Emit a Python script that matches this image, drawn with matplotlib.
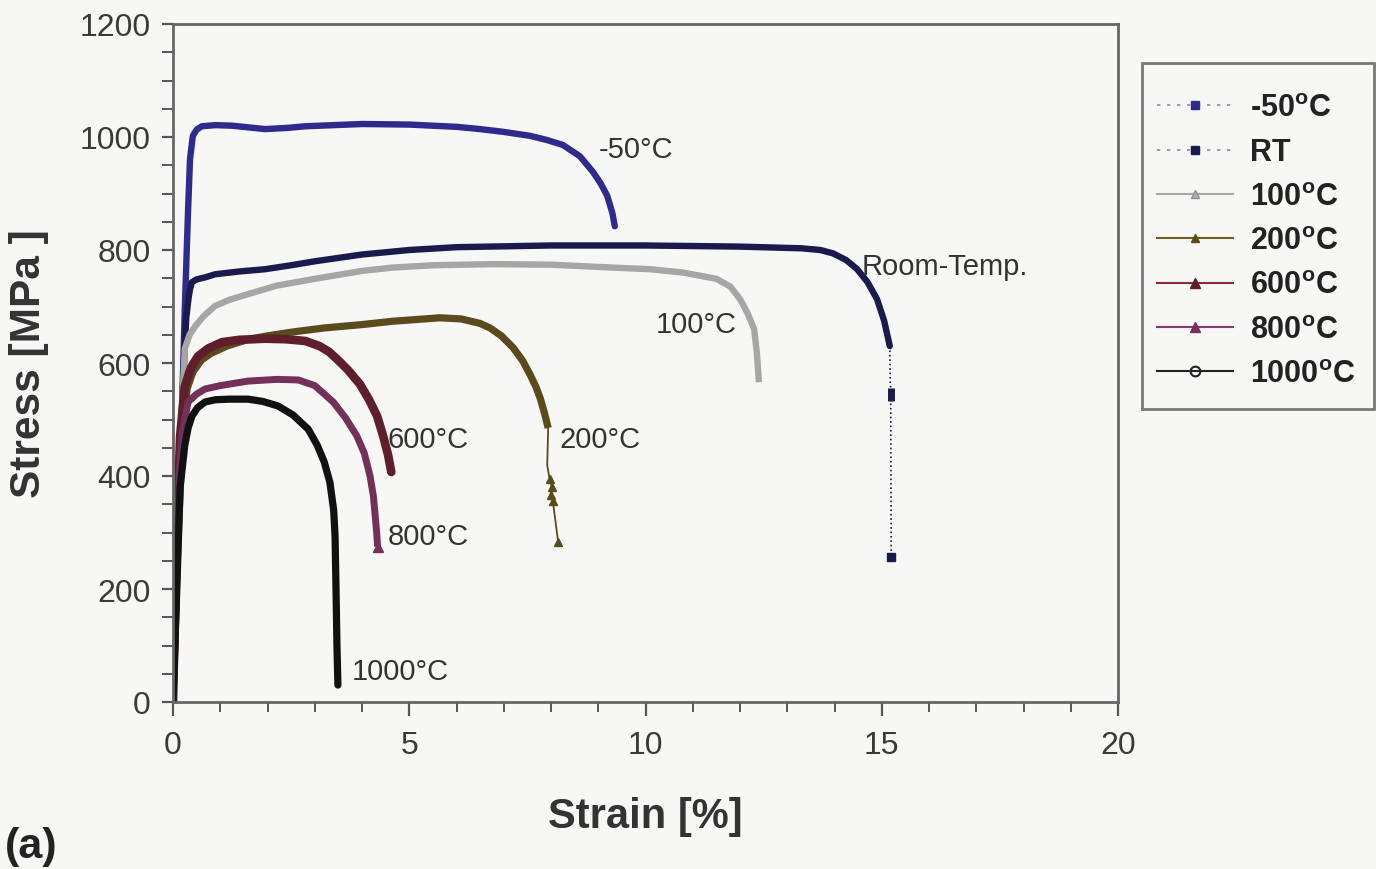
import matplotlib
matplotlib.use("Agg")
import matplotlib.pyplot as plt
from matplotlib.lines import Line2D
from matplotlib.patches import Rectangle
from matplotlib.ticker import MultipleLocator

plt.rcParams['font.family'] = ['Liberation Sans', 'DejaVu Sans']
plt.rcParams['mathtext.fontset'] = 'custom'
plt.rcParams['mathtext.rm'] = 'Liberation Sans'
plt.rcParams['mathtext.bf'] = 'Liberation Sans:bold'

# ---------------- data ----------------
m50_strain = [0, 0.19, 0.25, 0.32, 0.36, 0.42, 0.5, 0.61, 0.9, 1.25, 1.6, 1.95, 2.4, 2.8, 3.4, 4.0, 5.0, 6.0,
              6.5, 7.0, 7.56, 7.9, 8.25, 8.61, 8.89, 9.05, 9.19, 9.3, 9.35]
m50_stress = [0, 519, 696, 873, 961, 1002, 1013, 1019, 1021, 1020, 1017, 1014, 1016, 1019, 1021, 1023, 1022, 1018,
              1014, 1009, 1002, 995, 986, 966, 938, 918, 896, 865, 842]

rt_strain = [0, 0.1, 0.2, 0.28, 0.33, 0.36, 0.4, 0.5, 0.7, 0.89, 1.4, 1.95, 2.5, 3.0, 4.0, 5.0, 6.0, 8.0, 10.0,
             12.0, 13.3, 13.7, 13.97, 14.25, 14.48, 14.7, 14.9, 15.05, 15.17]
rt_stress = [0, 270, 540, 680, 715, 731, 743, 748, 752, 757, 762, 766, 773, 780, 792, 800, 805, 808, 808,
             806, 803, 800, 794, 782, 766, 743, 713, 675, 630]
rt_tail_strain = [15.17, 15.18, 15.19, 15.19, 15.2]
rt_tail_stress = [630, 566, 555, 533, 257]

t100_strain = [0, 0.1, 0.18, 0.25, 0.35, 0.47, 0.65, 0.89, 1.2, 1.59, 2.2, 3.0, 4.0, 4.66, 5.5, 6.77, 8.0, 9.0,
               10.1, 10.8, 11.5, 11.8, 12.0, 12.15, 12.3, 12.36, 12.4]
t100_stress = [0, 280, 500, 625, 650, 665, 683, 701, 712, 722, 737, 749, 763, 769, 773, 775, 774, 770,
               766, 760, 749, 735, 713, 690, 660, 615, 566]

t200_strain = [0, 0.1, 0.2, 0.3, 0.42, 0.6, 0.8, 1.14, 1.6, 2.0, 2.54, 3.2, 4.0, 4.66, 5.65, 6.1, 6.5, 6.71,
               6.95, 7.2, 7.4, 7.56, 7.68, 7.77, 7.86, 7.94]
t200_stress = [0, 270, 470, 555, 584, 605, 617, 630, 642, 648, 655, 662, 668, 674, 680, 678, 670, 662,
               648, 627, 604, 579, 558, 538, 512, 485]
t200_tail_strain = [7.94, 7.92, 7.97, 8.02, 7.99, 8.04, 8.15]
t200_tail_stress = [485, 419, 395, 380, 366, 355, 284]

t600_strain = [0, 0.08, 0.15, 0.25, 0.38, 0.53, 0.75, 1.04, 1.4, 1.95, 2.4, 2.8, 3.1, 3.3, 3.47, 3.7, 3.96,
               4.15, 4.32, 4.45, 4.55, 4.62]
t600_stress = [0, 300, 470, 559, 592, 612, 626, 637, 641, 643, 642, 639, 630, 620, 607, 588, 562,
               535, 506, 470, 438, 407]

t800_strain = [0, 0.07, 0.13, 0.2, 0.32, 0.5, 0.68, 1.0, 1.59, 2.2, 2.65, 3.0, 3.39, 3.65, 3.89, 4.05, 4.17,
               4.24, 4.28, 4.31, 4.33]
t800_stress = [0, 260, 400, 480, 531, 545, 554, 560, 568, 571, 570, 560, 531, 503, 471, 440, 400,
               365, 329, 300, 275]

t1000_strain = [0, 0.08, 0.15, 0.25, 0.32, 0.4, 0.52, 0.68, 0.9, 1.2, 1.59, 1.9, 2.22, 2.54, 2.86, 3.05, 3.2,
                3.32, 3.4, 3.43, 3.45, 3.47, 3.49]
t1000_stress = [0, 200, 380, 455, 485, 506, 521, 531, 535, 536, 536, 532, 524, 508, 483, 455, 425,
                389, 340, 294, 200, 100, 30]

legend_labels = ["-50$^{\\mathbf{o}}$C", "RT", "100$^{\\mathbf{o}}$C", "200$^{\\mathbf{o}}$C",
                 "600$^{\\mathbf{o}}$C", "800$^{\\mathbf{o}}$C", "1000$^{\\mathbf{o}}$C"]
curve_labels = ["-50°C", "Room-Temp.", "100°C", "200°C", "600°C", "800°C", "1000°C"]
label_x = [9.0, 14.58, 10.22, 8.19, 4.55, 4.55, 3.79]
label_y = [979, 772, 669, 465, 465, 294, 55]

xticks = [0, 5, 10, 15, 20]
yticks = [0, 200, 400, 600, 800, 1000, 1200]

# ---------------- styling ----------------
c_m50 = '#2f2b8e'
c_rt = '#1b1a4c'
c_100 = '#a6a6a6'
c_200 = '#5b4a1c'
c_600 = '#5e1e2c'
c_800 = '#733058'
c_1000 = '#111111'
bg = '#f7f7f5'

W, H = 1376, 870
fig = plt.figure(figsize=(W / 100, H / 100), dpi=100, facecolor=bg)
ax = fig.add_axes([173 / W, 1 - 703 / H, 945 / W, 678 / H])
ax.set_facecolor(bg)

lw = 4.6
kw = dict(solid_capstyle='round', solid_joinstyle='round')
ax.plot(m50_strain, m50_stress, color=c_m50, lw=lw, **kw)
ax.plot(rt_strain, rt_stress, color=c_rt, lw=lw, **kw)
ax.plot(rt_tail_strain, rt_tail_stress, color=c_rt, lw=1.2, ls=':')
ax.plot(rt_tail_strain[2:4], rt_tail_stress[2:4], color=c_rt, lw=5, solid_capstyle='butt')
ax.plot(rt_tail_strain[-1:], rt_tail_stress[-1:], color=c_rt, marker='s', ms=6, ls='none')
ax.plot(t100_strain, t100_stress, color=c_100, lw=lw, solid_capstyle='butt', solid_joinstyle='round')
ax.plot(t200_strain, t200_stress, color=c_200, lw=lw + 0.6, solid_capstyle='butt', solid_joinstyle='round')
ax.plot(t200_tail_strain, t200_tail_stress, color=c_200, lw=1.3, marker='^', ms=6, markevery=[2, 3, 4, 5, 6])
ax.plot(t600_strain, t600_stress, color=c_600, lw=lw + 1.6, **kw)
ax.plot(t800_strain, t800_stress, color=c_800, lw=lw + 0.4, solid_capstyle='butt', solid_joinstyle='round')
ax.plot(t800_strain[-1:], t800_stress[-1:], color=c_800, marker='^', ms=7, ls='none')
ax.plot(t1000_strain, t1000_stress, color=c_1000, lw=lw + 0.6, **kw)

for txt, x, y in zip(curve_labels, label_x, label_y):
    ax.text(x, y, txt, fontsize=21, color='#333333', ha='left', va='center')

ax.set_xlim(0, 20)
ax.set_ylim(0, 1200)
ax.set_xticks(xticks)
ax.set_yticks(yticks)
ax.xaxis.set_minor_locator(MultipleLocator(1))
ax.yaxis.set_minor_locator(MultipleLocator(50))
ax.tick_params(axis='both', which='major', labelsize=23, labelcolor='#3a3a3a', color='#555555', width=1.6)
ax.tick_params(axis='x', which='major', length=10, direction='out', pad=10)
ax.tick_params(axis='x', which='minor', length=7, direction='out', width=1.4, color='#555555')
ax.tick_params(axis='y', which='major', length=8, direction='out', pad=8)
ax.tick_params(axis='y', which='minor', length=8, direction='out', width=1.4, color='#555555')
for s in ax.spines.values():
    s.set_color('#666666')
    s.set_linewidth(2)

ax.set_xlabel('Strain [%]', fontsize=30, fontweight='bold', color='#333333', labelpad=26)
ax.set_ylabel('Stress [MPa ]', fontsize=30.5, fontweight='bold', color='#333333', labelpad=22)

fig.text(5 / W, 1 - 847 / H, '(a)', fontsize=31, fontweight='bold', color='#222222', ha='left', va='center')

handles = [
    Line2D([], [], color='#8a8ab0', ls=(0, (2, 4)), lw=1.2, marker='s', ms=6, mfc=c_m50, mec=c_m50),
    Line2D([], [], color='#8a8a9a', ls=(0, (2, 4)), lw=1.2, marker='s', ms=6, mfc=c_rt, mec=c_rt),
    Line2D([], [], color='#a8a8a8', lw=1.5, marker='^', ms=6, mfc='#b0b0b0', mec='#909090'),
    Line2D([], [], color='#6b6020', lw=1.5, marker='^', ms=6, mfc=c_200, mec=c_200),
    Line2D([], [], color='#8a2a3a', lw=1.5, marker='^', ms=7, mfc=c_600, mec=c_600),
    Line2D([], [], color='#8a3a70', lw=1.5, marker='^', ms=7, mfc=c_800, mec=c_800),
    Line2D([], [], color='#222222', lw=1.5, marker='o', ms=7, mfc='none', mec='#222222', mew=1.5),
]
fig.patches.append(Rectangle((1142 / W, 1 - 410 / H), 232 / W, 346 / H, transform=fig.transFigure,
                             facecolor=bg, edgecolor='#777777', lw=2, zorder=0))
leg = fig.legend(handles, legend_labels, loc='upper left', bbox_to_anchor=(1157 / W, 1 - 94 / H),
                 frameon=False, prop={'size': 22, 'weight': 'bold'}, handlelength=2.5, handletextpad=0.55,
                 labelspacing=0.47, borderpad=0, borderaxespad=0)
for t in leg.get_texts():
    t.set_color('#222222')

fig.savefig('out.png', dpi=100, facecolor=bg)
